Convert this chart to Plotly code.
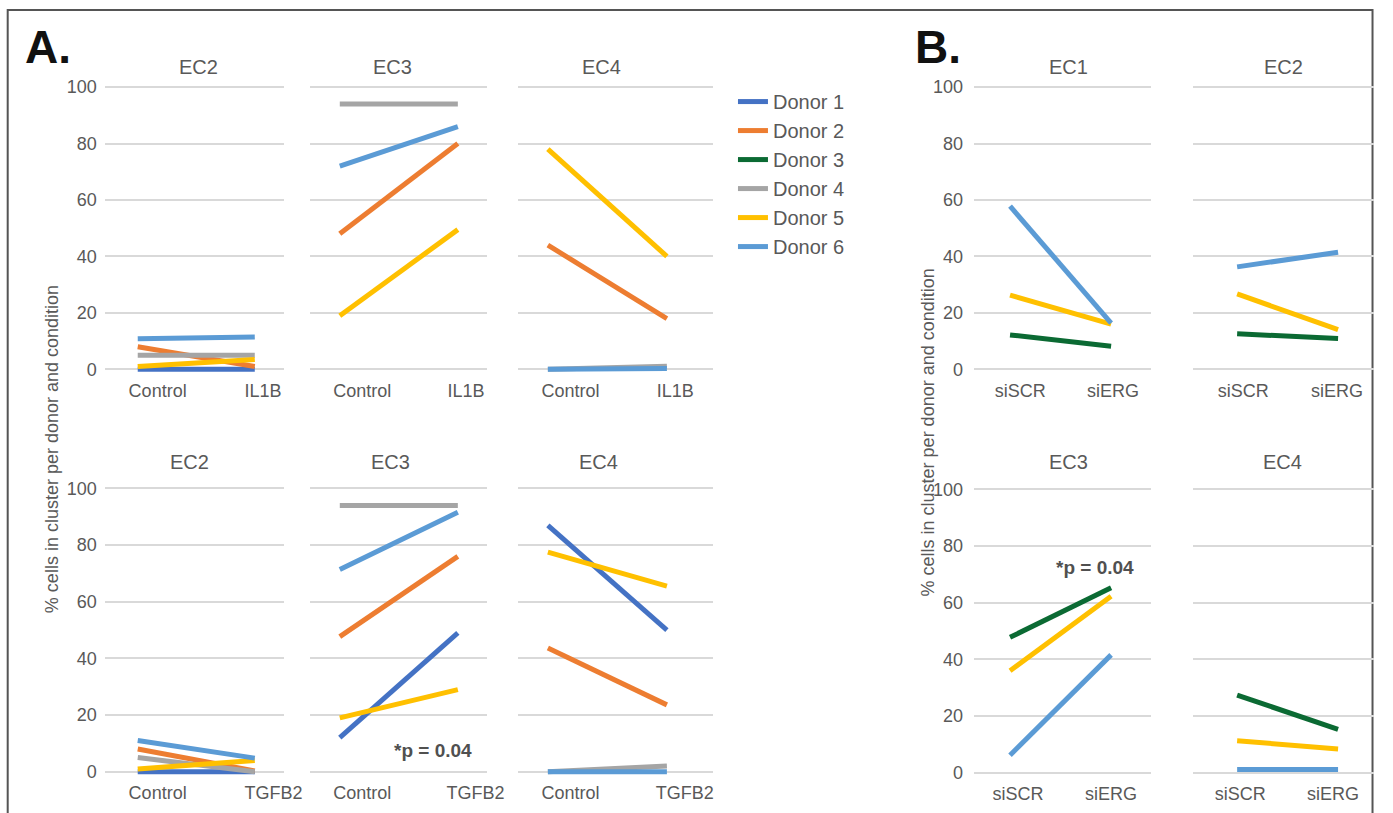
import plotly.graph_objects as go

# ---------------- data ----------------
DONORS = ["Donor 1", "Donor 2", "Donor 3", "Donor 4", "Donor 5", "Donor 6"]
DONOR_COLORS = ["#4472C4", "#ED7D31", "#0B6A33", "#A5A5A5", "#FFC000", "#5B9BD5"]

# Panel A, top row: Control vs IL1B (values per donor, None = not measured)
IL1B_CONDITIONS = ["Control", "IL1B"]
IL1B_EC2_CONTROL = [0, 8, None, 5, 1, 10.8]
IL1B_EC2_TREATED = [0, 1, None, 5, 3.5, 11.5]
IL1B_EC3_CONTROL = [None, 48, None, 94, 19, 72]
IL1B_EC3_TREATED = [None, 80, None, 94, 49.5, 86]
IL1B_EC4_CONTROL = [None, 44, None, 0, 78, 0]
IL1B_EC4_TREATED = [None, 18, None, 1.1, 40, 0.3]

# Panel A, bottom row: Control vs TGFB2
TGFB2_CONDITIONS = ["Control", "TGFB2"]
TGFB2_EC2_CONTROL = [0, 8, None, 5, 1, 11]
TGFB2_EC2_TREATED = [0, 0.3, None, 0, 4, 4.8]
TGFB2_EC3_CONTROL = [12, 47.7, None, 94, 19, 71.4]
TGFB2_EC3_TREATED = [49, 76, None, 94, 29, 91.6]
TGFB2_EC4_CONTROL = [87, 43.7, None, 0, 77.5, 0]
TGFB2_EC4_TREATED = [50, 23.6, None, 2, 65.5, 0]

# Panel B: siSCR vs siERG
SIERG_CONDITIONS = ["siSCR", "siERG"]
SIERG_EC1_SCR = [None, None, 12.2, None, 26.3, 57.8]
SIERG_EC1_ERG = [None, None, 8.2, None, 16, 16.4]
SIERG_EC2_SCR = [None, None, 12.6, None, 26.7, 36.3]
SIERG_EC2_ERG = [None, None, 10.9, None, 14.1, 41.5]
SIERG_EC3_SCR = [None, None, 47.8, None, 36, 6.2]
SIERG_EC3_ERG = [None, None, 65.3, None, 62.3, 41.6]
SIERG_EC4_SCR = [None, None, 27.4, None, 11.3, 1.1]
SIERG_EC4_ERG = [None, None, 15.3, None, 8.4, 1.1]

Y_TICKS = [0, 20, 40, 60, 80, 100]
Y_TITLE = "% cells in cluster per donor and condition"
P_LABEL = "<b>*p = 0.04</b>"

# ---------------- layout helpers ----------------
W, H = 1393, 813
FONT = "Arial, Liberation Sans, Helvetica, sans-serif"
GREY_TEXT = "#595959"
GRID = "#D9D9D9"

# small correction for the capture pipeline (measured on previous renders)
SX, BX = 0.986, 0.3
SY, BY = 0.988, 7.0


def px_x(x):
    return min(1.0, max(0.0, ((x - BX) / SX) / W))


def px_y(y):
    return 1 - ((y - BY) / SY) / H


# panel definitions: title, title centre x, conditions, values (ctrl, treat), x-pixel domain,
# x range, row key, label positions, show y ticks, y tick standoff
panels = [
    ("EC2", 199, IL1B_CONDITIONS, IL1B_EC2_CONTROL, IL1B_EC2_TREATED, (105, 284), (-0.282, 1.248), "top", (0.17, 1.07), True, 7),
    ("EC3", 393, IL1B_CONDITIONS, IL1B_EC3_CONTROL, IL1B_EC3_TREATED, (310, 487), (-0.254, 1.246), "top", (0.19, 1.07), False, 0),
    ("EC4", 602, IL1B_CONDITIONS, IL1B_EC4_CONTROL, IL1B_EC4_TREATED, (518, 713), (-0.252, 1.387), "top", (0.19, 1.07), False, 0),
    ("EC2", 190, TGFB2_CONDITIONS, TGFB2_EC2_CONTROL, TGFB2_EC2_TREATED, (105, 284), (-0.282, 1.248), "botA", (0.17, 1.16), True, 7),
    ("EC3", 391, TGFB2_CONDITIONS, TGFB2_EC3_CONTROL, TGFB2_EC3_TREATED, (310, 487), (-0.254, 1.246), "botA", (0.19, 1.15), False, 0),
    ("EC4", 599, TGFB2_CONDITIONS, TGFB2_EC4_CONTROL, TGFB2_EC4_TREATED, (518, 713), (-0.252, 1.387), "botA", (0.19, 1.15), False, 0),
    ("EC1", 1068, SIERG_CONDITIONS, SIERG_EC1_SCR, SIERG_EC1_ERG, (974, 1151), (-0.356, 1.396), "top", (0.10, 1.02), True, 10),
    ("EC2", 1283, SIERG_CONDITIONS, SIERG_EC2_SCR, SIERG_EC2_ERG, (1193, 1374), (-0.436, 1.356), "top", (0.06, 0.99), False, 0),
    ("EC3", 1068, SIERG_CONDITIONS, SIERG_EC3_SCR, SIERG_EC3_ERG, (974, 1151), (-0.356, 1.396), "botB", (0.08, 1.0), True, 10),
    ("EC4", 1282, SIERG_CONDITIONS, SIERG_EC4_SCR, SIERG_EC4_ERG, (1193, 1374), (-0.436, 1.356), "botB", (0.03, 0.95), False, 0),
]

# y pixel positions of value 100 and 0 per row, and title y
rows = {
    "top": (87, 369, 67),
    "botA": (488, 771, 462),
    "botB": (489, 772, 462),
}
Y_MIN, Y_MAX = -3, 101

fig = go.Figure()
layout = dict(
    width=W, height=H,
    margin=dict(l=0, r=0, t=0, b=0),
    paper_bgcolor="white", plot_bgcolor="white",
    font=dict(family=FONT, color=GREY_TEXT),
    showlegend=True,
    annotations=[], shapes=[],
)

legend_shown = set()
for i, (title, tx, conds, ctrl, treat, (x0, x1), xr, rowkey, labpos, showy, standoff) in enumerate(panels):
    n = i + 1
    xa = "xaxis" if n == 1 else f"xaxis{n}"
    ya = "yaxis" if n == 1 else f"yaxis{n}"
    xref = "x" if n == 1 else f"x{n}"
    yref = "y" if n == 1 else f"y{n}"
    y100, y0, ytitle = rows[rowkey]
    ppu = (y0 - y100) / 100.0
    top_px = y100 - (Y_MAX - 100) * ppu
    bot_px = y0 - Y_MIN * ppu
    layout[xa] = dict(
        domain=[px_x(x0), px_x(x1)], anchor=yref, range=list(xr),
        tickvals=list(labpos), ticktext=conds, ticks="",
        showgrid=False, zeroline=False, showline=False,
        tickfont=dict(size=18, color=GREY_TEXT, family=FONT),
        fixedrange=True,
    )
    layout[ya] = dict(
        domain=[px_y(bot_px), px_y(top_px)], anchor=xref, range=[Y_MIN, Y_MAX],
        tickvals=Y_TICKS, showticklabels=showy, ticks="",
        showgrid=True, gridcolor=GRID, gridwidth=1.5,
        zeroline=False, showline=False,
        tickfont=dict(size=18, color=GREY_TEXT, family=FONT),
        ticklabelstandoff=standoff,
        fixedrange=True,
    )
    for d, (name, color) in enumerate(zip(DONORS, DONOR_COLORS)):
        if ctrl[d] is None:
            continue
        show = name not in legend_shown
        legend_shown.add(name)
        fig.add_trace(go.Scatter(
            x=[0, 1], y=[ctrl[d], treat[d]], mode="lines",
            line=dict(color=color, width=5),
            name=name, legendgroup=name, showlegend=show,
            legendrank=d + 1,
            xaxis=xref, yaxis=yref, hoverinfo="skip",
        ))
    # panel title
    layout["annotations"].append(dict(
        text=title, x=px_x(tx), y=px_y(ytitle), xref="paper", yref="paper",
        showarrow=False, font=dict(size=20, color=GREY_TEXT, family=FONT),
        xanchor="center", yanchor="middle",
    ))

# y-axis titles
layout["annotations"].append(dict(
    text=Y_TITLE, x=px_x(53), y=px_y(449), xref="paper", yref="paper", showarrow=False,
    textangle=-90, font=dict(size=18, color=GREY_TEXT, family=FONT),
    xanchor="center", yanchor="middle",
))
layout["annotations"].append(dict(
    text=Y_TITLE, x=px_x(928), y=px_y(432), xref="paper", yref="paper", showarrow=False,
    textangle=-90, font=dict(size=18, color=GREY_TEXT, family=FONT),
    xanchor="center", yanchor="middle",
))
# panel letters
for letter, xc in (("A.", 48), ("B.", 938)):
    layout["annotations"].append(dict(
        text=f"<b>{letter}</b>", x=px_x(xc), y=px_y(47), xref="paper", yref="paper",
        showarrow=False, font=dict(size=46, color="#111111", family=FONT),
        xanchor="center", yanchor="middle",
    ))
# p-value labels
layout["annotations"].append(dict(
    text=P_LABEL, x=px_x(433), y=px_y(750), xref="paper", yref="paper", showarrow=False,
    font=dict(size=19, color="#505050", family=FONT), xanchor="center", yanchor="middle",
))
layout["annotations"].append(dict(
    text=P_LABEL, x=px_x(1095), y=px_y(567), xref="paper", yref="paper", showarrow=False,
    font=dict(size=19, color="#505050", family=FONT), xanchor="center", yanchor="middle",
))

# outer frame
layout["shapes"].append(dict(
    type="rect", xref="paper", yref="paper",
    x0=px_x(8), x1=1391.5 / W, y0=px_y(840), y1=px_y(10),
    line=dict(color="#555555", width=2), fillcolor="rgba(0,0,0,0)", layer="below",
))

layout["legend"] = dict(
    x=px_x(733), y=px_y(82), xanchor="left", yanchor="top",
    font=dict(size=20, color=GREY_TEXT, family=FONT),
    bgcolor="rgba(0,0,0,0)", traceorder="normal", tracegroupgap=4,
    itemclick=False, itemdoubleclick=False,
)

fig.update_layout(**layout)

POST = """
var de = document.documentElement, b = document.body;
de.style.margin = '0'; de.style.padding = '0'; de.style.overflow = 'hidden';
b.style.margin = '0'; b.style.padding = '0'; b.style.overflow = 'hidden';
"""
fig.write_html("out.html", config={"displayModeBar": False}, post_script=POST)
